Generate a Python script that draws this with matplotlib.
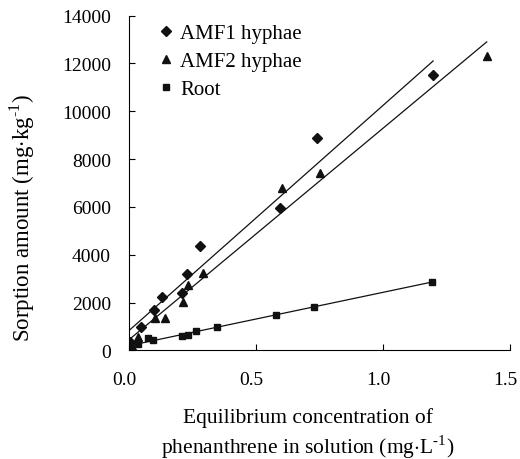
import numpy as np
import matplotlib
matplotlib.use("Agg")
import matplotlib.pyplot as plt
from matplotlib.transforms import ScaledTranslation

plt.rcParams['font.family'] = ['Liberation Serif', 'DejaVu Serif']
plt.rcParams['mathtext.fontset'] = 'custom'
plt.rcParams['mathtext.rm'] = 'Liberation Serif'

# data
amf1_x = [0.004, 0.046, 0.100, 0.129, 0.210, 0.228, 0.280, 0.596, 0.741, 1.197]
amf1_y = [350, 970, 1710, 2225, 2400, 3200, 4360, 5950, 8880, 11500]

amf2_x = [0.010, 0.037, 0.102, 0.140, 0.214, 0.231, 0.293, 0.603, 0.751, 1.408]
amf2_y = [200, 550, 1360, 1360, 2020, 2750, 3230, 6790, 7430, 12290]

root_x = [0.004, 0.037, 0.076, 0.096, 0.210, 0.231, 0.262, 0.346, 0.580, 0.730, 1.192]
root_y = [150, 270, 510, 450, 590, 660, 800, 970, 1485, 1810, 2880]

series = [
    ('AMF1 hyphae', amf1_x, amf1_y, 'D', 5.3),
    ('AMF2 hyphae', amf2_x, amf2_y, '^', 6.2),
    ('Root', root_x, root_y, 's', 5),
]

fig = plt.figure(figsize=(5.2, 4.6), dpi=100)
ax = fig.add_axes([0.248, 0.236, 0.733, 0.728])

for label, xs, ys, mk, ms in series:
    xs = np.array(xs)
    ys = np.array(ys)
    ax.plot(xs, ys, linestyle='none', marker=mk, ms=ms, color='#111111', label=label)
    # linear fit line
    k, b = np.polyfit(xs, ys, 1)
    xx = np.array([0.0, xs.max()])
    ax.plot(xx, k * xx + b, color='#111111', lw=0.9)

ax.set_xlim(0, 1.5)
ax.set_ylim(0, 14000)
ax.set_xticks([0.0, 0.5, 1.0, 1.5])
ax.set_xticklabels(['0.0', '0.5', '1.0', '1.5'])
ax.set_yticks(range(0, 14001, 2000))
ax.tick_params(direction='in', length=4, width=0.8)
ax.tick_params(axis='x', labelsize=14, pad=15)
ax.tick_params(axis='y', labelsize=14, pad=13)
# x tick labels sit a little left of their ticks in the original
shift = ScaledTranslation(-5 / 100, 0, fig.dpi_scale_trans)
for lbl in ax.get_xticklabels():
    lbl.set_transform(lbl.get_transform() + shift)
for s in ['top', 'right']:
    ax.spines[s].set_visible(False)
for s in ['left', 'bottom']:
    ax.spines[s].set_linewidth(0.8)

ax.legend(loc='upper left', bbox_to_anchor=(0.055, 1.0), frameon=False,
          fontsize=15, handlelength=0.7, handletextpad=0.35, labelspacing=0.4,
          borderaxespad=0)

fig.text(0.592, 0.091, 'Equilibrium concentration of', ha='center', va='center', fontsize=15.5)
fig.text(0.592, 0.028, 'phenanthrene in solution (mg$\\cdot$L$^{\\text{-1}}$)', ha='center', va='center', fontsize=15.5)
fig.text(0.042, 0.526, 'Sorption amount (mg$\\cdot$kg$^{\\text{-1}}$)', ha='center', va='center',
         rotation=90, fontsize=16.5)

fig.savefig('out.png', dpi=100)
